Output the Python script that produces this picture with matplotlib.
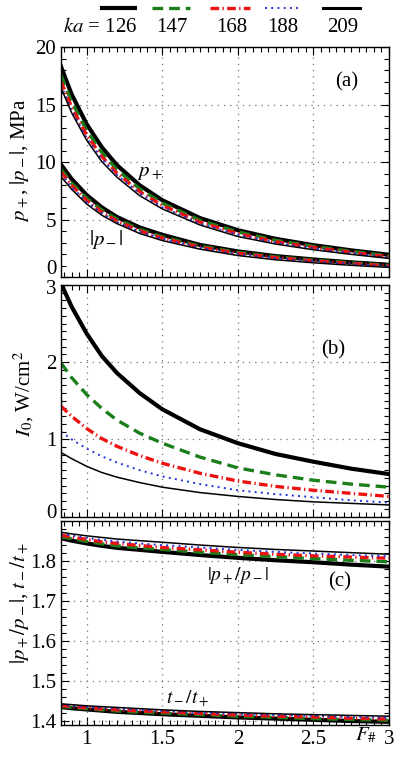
import numpy as np
import matplotlib
matplotlib.use("Agg")
import matplotlib.pyplot as plt
import matplotlib.transforms as mtransforms
from matplotlib.ticker import MultipleLocator, FuncFormatter

plt.rcParams['font.family'] = ['Liberation Serif', 'DejaVu Serif']
plt.rcParams['mathtext.fontset'] = 'stix'

# F-number grid and curves
F = [0.83, 0.9, 1.0, 1.1, 1.2, 1.35, 1.5, 1.75, 2.0, 2.25, 2.5, 2.75, 3.0]
ka = [126, 147, 168, 188, 209]

# (a) peak positive pressure p+, MPa
pplus_126 = [18.3, 15.9, 13.3, 11.3, 9.75, 8.0, 6.7, 5.15, 4.1, 3.35, 2.8, 2.35, 1.97]
pplus_147 = [17.55, 15.25, 12.75, 10.85, 9.35, 7.7, 6.45, 4.95, 3.95, 3.22, 2.7, 2.26, 1.88]
pplus_168 = [17.0, 14.8, 12.35, 10.5, 9.05, 7.45, 6.25, 4.8, 3.8, 3.1, 2.6, 2.18, 1.78]
pplus_188 = [16.7, 14.5, 12.1, 10.3, 8.9, 7.3, 6.1, 4.68, 3.7, 3.02, 2.53, 2.12, 1.72]
pplus_209 = [16.45, 14.3, 11.9, 10.05, 8.7, 7.1, 5.95, 4.55, 3.55, 2.9, 2.4, 2.0, 1.65]

# (a) peak negative pressure |p-|, MPa
pminus_126 = [9.8, 8.55, 7.15, 6.08, 5.25, 4.34, 3.7, 2.82, 2.26, 1.85, 1.56, 1.31, 1.1]
pminus_147 = [9.4, 8.2, 6.87, 5.85, 5.05, 4.17, 3.52, 2.72, 2.17, 1.78, 1.5, 1.26, 1.05]
pminus_168 = [9.15, 8.0, 6.68, 5.68, 4.9, 4.05, 3.42, 2.63, 2.1, 1.72, 1.44, 1.21, 1.0]
pminus_188 = [9.0, 7.85, 6.55, 5.57, 4.8, 3.97, 3.35, 2.57, 2.04, 1.67, 1.4, 1.17, 0.96]
pminus_209 = [8.75, 7.65, 6.37, 5.4, 4.67, 3.82, 3.2, 2.45, 1.9, 1.53, 1.27, 1.05, 0.87]

# (b) source intensity I0, W/cm^2
I0_126 = [3.02, 2.72, 2.37, 2.08, 1.86, 1.6, 1.39, 1.13, 0.95, 0.81, 0.71, 0.62, 0.55]
I0_147 = [1.99, 1.8, 1.58, 1.4, 1.25, 1.08, 0.95, 0.77, 0.63, 0.54, 0.47, 0.42, 0.38]
I0_168 = [1.43, 1.3, 1.14, 1.01, 0.91, 0.79, 0.69, 0.56, 0.46, 0.39, 0.34, 0.3, 0.26]
I0_188 = [1.1, 1.0, 0.88, 0.78, 0.7, 0.6, 0.52, 0.42, 0.34, 0.29, 0.25, 0.21, 0.18]
I0_209 = [0.83, 0.75, 0.65, 0.57, 0.51, 0.44, 0.38, 0.31, 0.26, 0.22, 0.19, 0.17, 0.15]

# (c) |p+/p-|
ratio_126 = [1.857, 1.851, 1.844, 1.838, 1.833, 1.828, 1.823, 1.815, 1.808, 1.802, 1.797, 1.791, 1.786]
ratio_147 = [1.861, 1.856, 1.849, 1.843, 1.838, 1.833, 1.829, 1.822, 1.816, 1.811, 1.806, 1.802, 1.798]
ratio_168 = [1.865, 1.86, 1.854, 1.848, 1.844, 1.839, 1.834, 1.828, 1.822, 1.817, 1.813, 1.81, 1.807]
ratio_188 = [1.868, 1.864, 1.858, 1.853, 1.849, 1.844, 1.84, 1.834, 1.828, 1.823, 1.819, 1.815, 1.812]
ratio_209 = [1.872, 1.868, 1.863, 1.859, 1.855, 1.851, 1.847, 1.84, 1.834, 1.829, 1.825, 1.821, 1.817]

# (c) t-/t+
tt_126 = [1.435, 1.432, 1.429, 1.426, 1.423, 1.42, 1.417, 1.413, 1.409, 1.406, 1.403, 1.4, 1.398]
tt_147 = [1.437, 1.434, 1.431, 1.428, 1.425, 1.422, 1.42, 1.416, 1.412, 1.409, 1.406, 1.404, 1.402]
tt_168 = [1.439, 1.436, 1.433, 1.43, 1.428, 1.425, 1.423, 1.419, 1.415, 1.412, 1.41, 1.407, 1.405]
tt_188 = [1.44, 1.438, 1.435, 1.433, 1.431, 1.428, 1.425, 1.421, 1.418, 1.415, 1.413, 1.41, 1.408]
tt_209 = [1.443, 1.441, 1.438, 1.436, 1.434, 1.431, 1.428, 1.424, 1.421, 1.418, 1.416, 1.414, 1.412]

styles = [
    dict(color='black', lw=3.0, ls='-'),
    dict(color='#1a7f1a', lw=2.4, ls=(0, (3.2, 1.8))),
    dict(color='#ee1111', lw=2.4, ls=(0, (2.6, 1.0, 0.4, 1.0))),
    dict(color='#2233dd', lw=1.4, ls=(0, (1.0, 2.2))),
    dict(color='black', lw=1.1, ls='-'),
]

fs = 15
fig = plt.figure(figsize=(4.0, 7.58), dpi=100)
L, W = 0.1525, 0.82
ax_a = fig.add_axes([L, 0.634, W, 0.304])
ax_b = fig.add_axes([L, 0.3186, W, 0.3054])
ax_c = fig.add_axes([L, 0.0435, W, 0.2691])

for ax in (ax_a, ax_b, ax_c):
    ax.set_xlim(0.83, 3.0)
    ax.xaxis.set_major_locator(MultipleLocator(0.5))
    ax.xaxis.set_minor_locator(MultipleLocator(0.05))
    ax.tick_params(which='both', direction='in', top=True, right=True, labelsize=fs)
    ax.tick_params(which='major', length=6, width=0.8)
    ax.tick_params(which='minor', length=3.5, width=0.8)
    ax.grid(True, which='major', ls=(0, (1, 4)), color='0.45', lw=0.9)
    for s in ax.spines.values():
        s.set_linewidth(1.0)

for ys, st in zip([pplus_126, pplus_147, pplus_168, pplus_188, pplus_209], styles):
    ax_a.plot(F, ys, **st)
for ys, st in zip([pminus_126, pminus_147, pminus_168, pminus_188, pminus_209], styles):
    ax_a.plot(F, ys, **st)
for ys, st in zip([I0_126, I0_147, I0_168, I0_188, I0_209], styles):
    ax_b.plot(F, ys, **st)
for ys, st in zip([ratio_126, ratio_147, ratio_168, ratio_188, ratio_209], styles):
    ax_c.plot(F, ys, **st)
for ys, st in zip([tt_126, tt_147, tt_168, tt_188, tt_209], styles):
    ax_c.plot(F, ys, **st)

ax_a.set_ylim(0, 20)
ax_a.set_yticks([0, 5, 10, 15, 20])
ax_a.yaxis.set_minor_locator(MultipleLocator(1))
ax_b.set_ylim(0, 3)
ax_b.set_yticks([0, 1, 2, 3])
ax_b.yaxis.set_minor_locator(MultipleLocator(0.1))
ax_c.set_ylim(1.39, 1.9)
ax_c.set_yticks([1.4, 1.5, 1.6, 1.7, 1.8])
ax_c.yaxis.set_minor_locator(MultipleLocator(0.02))

ax_a.tick_params(labelbottom=False)
ax_b.tick_params(labelbottom=False)
ax_c.xaxis.set_major_formatter(FuncFormatter(lambda v, p: '%g' % v))

# nudge the end labels at the panel joints, as in the original
fig.canvas.draw()
def nudge(lab, dy_px):
    lab.set_transform(lab.get_transform() +
                      mtransforms.ScaledTranslation(0, dy_px / 100, fig.dpi_scale_trans))
nudge(ax_a.get_yticklabels()[0], 10)
nudge(ax_b.get_yticklabels()[-1], -2)
nudge(ax_b.get_yticklabels()[0], 6)

ax_a.set_ylabel(r'$p_+$, $|p_-|$, MPa', fontsize=fs)
ax_a.yaxis.set_label_coords(-0.09, 0.51)
ax_b.set_ylabel(r'$I_0$, W/cm$^2$', fontsize=fs)
ax_b.yaxis.set_label_coords(-0.075, 0.53)
ax_c.set_ylabel(r'$|p_+/p_-|$, $t_-/t_+$', fontsize=fs)
ax_c.yaxis.set_label_coords(-0.09, 0.6)

ax_a.text(0.87, 0.85, '(a)', transform=ax_a.transAxes, fontsize=fs, ha='center', va='center')
ax_b.text(0.83, 0.72, '(b)', transform=ax_b.transAxes, fontsize=fs, ha='center', va='center')
ax_c.text(0.85, 0.7, '(c)', transform=ax_c.transAxes, fontsize=fs, ha='center', va='center')
ax_a.text(1.42, 9.1, r'$p_+$', fontsize=fs, ha='center', va='center')
ax_a.text(1.13, 3.3, r'$|p_-|$', fontsize=fs, ha='center', va='center')
ax_c.text(2.0, 1.765, r'$|p_+/p_-|$', fontsize=fs - 1, ha='center', va='center')
ax_c.text(1.67, 1.453, r'$t_-/t_+$', fontsize=fs - 1, ha='center', va='center')
ax_c.text(2.85, 1.388, r'$F_\#$', fontsize=fs, ha='center', va='top')

# legend row drawn in pixel-like coordinates on top
ax_l = fig.add_axes([0, 1 - 42 / 758, 1, 42 / 758])
ax_l.set_xlim(0, 400)
ax_l.set_ylim(42, 0)
ax_l.axis('off')
seg_x = [(102, 135), (152, 190), (210, 250), (265, 300), (323, 360)]
lab_x = [100, 172, 232, 283, 343]
leg_styles = [dict(s) for s in styles]
leg_styles[4]['lw'] = 2.2
for (x0, x1), lx, k, st in zip(seg_x, lab_x, ka, leg_styles):
    ax_l.plot([x0, x1], [8, 8], **st)
    txt = (r'$ka$ = %d' % k) if k == ka[0] else '%d' % k
    ax_l.text(lx, 28, txt, fontsize=fs, ha='center', va='center')

fig.savefig('out.png', dpi=100)
